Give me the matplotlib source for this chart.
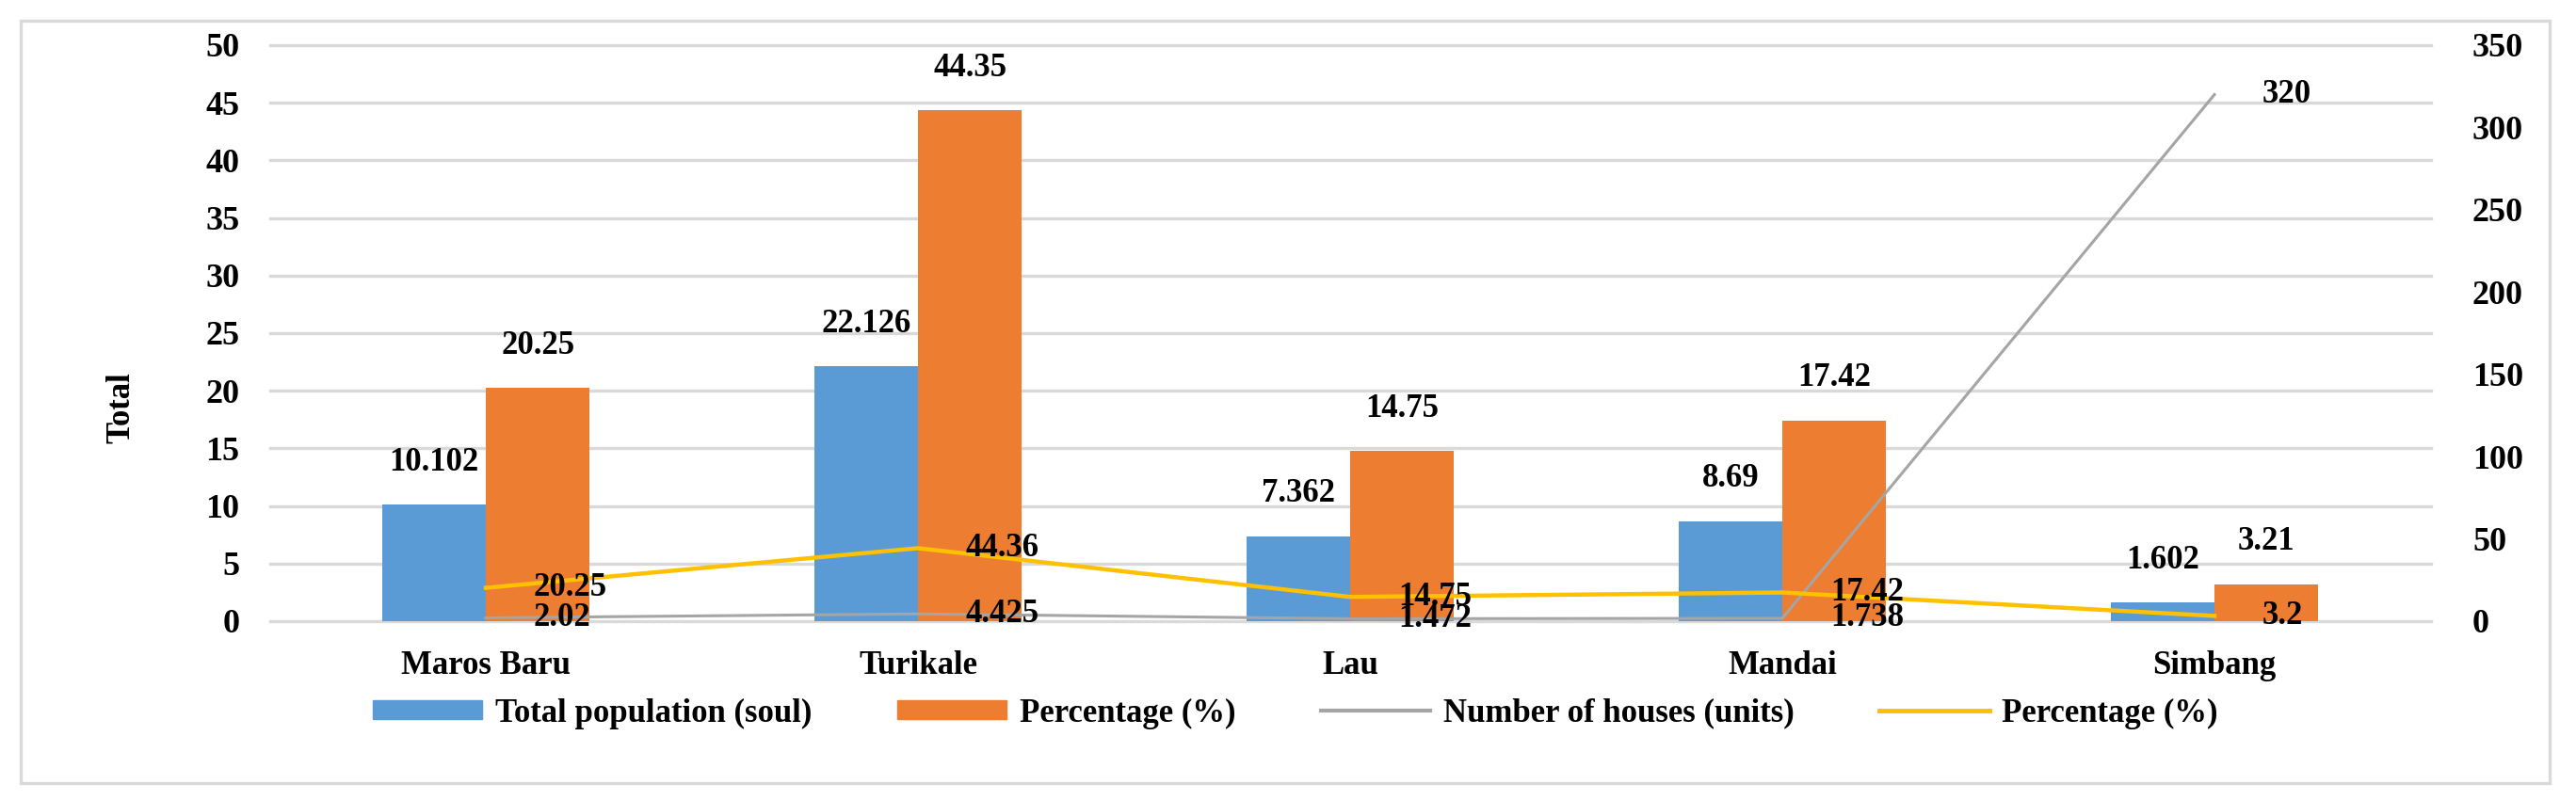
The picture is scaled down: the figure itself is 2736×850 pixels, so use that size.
import matplotlib.pyplot as plt
from matplotlib.patches import Rectangle, Patch
from matplotlib.lines import Line2D
import numpy as np

plt.rcParams['font.family'] = ['Liberation Serif', 'DejaVu Serif']
plt.rcParams['font.weight'] = 'bold'

villages = ['Maros Baru', 'Turikale', 'Lau', 'Mandai', 'Simbang']
population = [10.102, 22.126, 7.362, 8.69, 1.602]
pop_pct = [20.25, 44.35, 14.75, 17.42, 3.21]
houses = [2.02, 4.425, 1.472, 1.738, 320]
house_pct = [20.25, 44.36, 14.75, 17.42, 3.2]

pop_labels = ['10.102', '22.126', '7.362', '8.69', '1.602']
pop_pct_labels = ['20.25', '44.35', '14.75', '17.42', '3.21']
house_labels = ['2.02', '4.425', '1.472', '1.738', '320']
house_pct_labels = ['20.25', '44.36', '14.75', '17.42', '3.2']

c_blue = '#5B9BD5'
c_orange = '#ED7D31'
c_gray = '#A5A5A5'
c_yellow = '#FFC000'
c_grid = '#D9D9D9'

W, H, DPI = 2736, 850, 100
fig = plt.figure(figsize=(W / DPI, H / DPI), dpi=DPI)

left, right, top, bottom = 286.5, 2581.5, 48, 660
ax = fig.add_axes([left / W, 1 - bottom / H, (right - left) / W, (bottom - top) / H])
ax2 = ax.twinx()

x = np.arange(len(villages))
bw = 0.24
b1 = ax.bar(x - bw / 2, population, bw, color=c_blue, zorder=2)
b2 = ax.bar(x + bw / 2, pop_pct, bw, color=c_orange, zorder=2)

ax.set_xlim(-0.5, len(villages) - 0.5)
ax.set_ylim(0, 50)
ax.set_yticks(np.arange(0, 51, 5))
ax.yaxis.grid(True, color=c_grid, linewidth=2.4, zorder=0)
ax.set_axisbelow(True)
for g in ax.get_ygridlines():
    g.set_clip_on(False)
ax.set_xticks(x)
ax.set_xticklabels(villages, fontsize=25, fontweight='bold')
ax.tick_params(axis='both', length=0)
ax.tick_params(axis='y', labelsize=26, pad=23)
ax.tick_params(axis='x', pad=22)
for s in ax.spines.values():
    s.set_visible(False)

for rect, lab in zip(b1, pop_labels):
    ax.annotate(lab, (rect.get_x() + rect.get_width() / 2, rect.get_height()),
                xytext=(0, 45), textcoords='offset pixels', ha='center', va='center',
                fontsize=25, fontweight='bold')
for rect, lab in zip(b2, pop_pct_labels):
    ax.annotate(lab, (rect.get_x() + rect.get_width() / 2, rect.get_height()),
                xytext=(0, 45), textcoords='offset pixels', ha='center', va='center',
                fontsize=25, fontweight='bold')

ax2.plot(x, houses, color=c_gray, linewidth=2.2, zorder=3)
ax2.plot(x, house_pct, color=c_yellow, linewidth=3.2, zorder=4)
ax2.set_ylim(0, 350)
ax2.set_yticks(np.arange(0, 351, 50))
ax2.tick_params(axis='y', length=0, labelsize=26, pad=32)
for s in ax2.spines.values():
    s.set_visible(False)

for xi, v, lab in zip(x, houses, house_labels):
    ax2.annotate(lab, (xi, v), xytext=(51, 0), textcoords='offset pixels',
                 ha='left', va='center', fontsize=25, fontweight='bold', zorder=5)
for xi, v, lab in zip(x, house_pct, house_pct_labels):
    ax2.annotate(lab, (xi, v), xytext=(51, 0), textcoords='offset pixels',
                 ha='left', va='center', fontsize=25, fontweight='bold', zorder=5)

fig.text(129 / W, 1 - 433 / H, 'Total', rotation=90, ha='center', va='center',
         fontsize=25, fontweight='bold')

handles = [Patch(color=c_blue), Patch(color=c_orange),
           Line2D([], [], color=c_gray, linewidth=3), Line2D([], [], color=c_yellow, linewidth=3.5)]
labels = ['Total population (soul)', 'Percentage (%)', 'Number of houses (units)', 'Percentage (%)']
fig.legend(handles, labels, loc='center', bbox_to_anchor=(1376 / W, 1 - 758 / H), ncol=4,
           frameon=False, prop={'size': 25, 'weight': 'bold'},
           handlelength=3.35, handleheight=0.5, handletextpad=0.4, columnspacing=2.6)

fig.patches.append(Rectangle((22 / W, 1 - 832 / H), (2708 - 22) / W, (832 - 22) / H,
                             transform=fig.transFigure, fill=False, edgecolor=c_grid,
                             linewidth=2.4))

fig.savefig('out.png', dpi=DPI)
